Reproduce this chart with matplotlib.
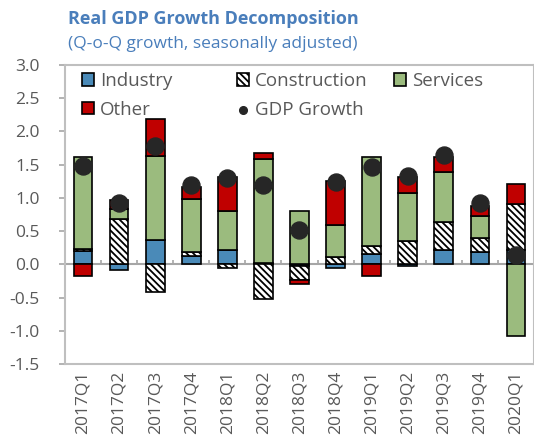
import numpy as np
import matplotlib.pyplot as plt

quarters = ["2017Q1", "2017Q2", "2017Q3", "2017Q4", "2018Q1", "2018Q2", "2018Q3",
            "2018Q4", "2019Q1", "2019Q2", "2019Q3", "2019Q4", "2020Q1"]
industry = [0.20, -0.09, 0.37, 0.13, 0.21, 0.02, -0.03, -0.06, 0.16, -0.03, 0.21, 0.19, 0.21]
construction = [0.03, 0.68, -0.41, 0.05, -0.06, -0.52, -0.20, 0.11, 0.11, 0.35, 0.43, 0.21, 0.70]
services = [1.39, 0.15, 1.26, 0.81, 0.59, 1.57, 0.81, 0.48, 1.34, 0.73, 0.75, 0.32, -1.08]
other = [-0.17, 0.14, 0.55, 0.17, 0.52, 0.08, -0.07, 0.67, -0.17, 0.24, 0.22, 0.16, 0.30]
gdp = [1.48, 0.93, 1.78, 1.19, 1.30, 1.19, 0.52, 1.24, 1.46, 1.33, 1.65, 0.92, 0.14]

blue = "#4A8AB8"
green = "#9BBB7E"
red = "#C00000"
grey = "#595959"
title_col = "#4A7EBB"

plt.rcParams['font.family'] = ['Open Sans', 'DejaVu Sans']
plt.rcParams['hatch.linewidth'] = 1.3

fig = plt.figure(figsize=(5.34, 4.45), dpi=100)
ax = fig.add_axes([0.1217, 0.182, 0.8783, 0.672])

x = np.arange(len(quarters))
w = 0.52
pos_base = np.zeros(len(x))
neg_base = np.zeros(len(x))
series = [("Industry", industry, blue, None),
          ("Construction", construction, "white", "\\" * 5),
          ("Services", services, green, None),
          ("Other", other, red, None)]
handles = {}
for name, vals, col, hatch in series:
    v = np.array(vals)
    b = np.where(v >= 0, pos_base, neg_base)
    bars = ax.bar(x, v, w, bottom=b, color=col, edgecolor="black", linewidth=1.2,
                  hatch=hatch, zorder=3)
    handles[name] = bars
    pos_base = pos_base + np.where(v >= 0, v, 0)
    neg_base = neg_base + np.where(v < 0, v, 0)

dots = ax.scatter(x, gdp, s=150, color="#262626", zorder=5)

ax.axhline(0, color="#A6A6A6", lw=1.5, zorder=2)
ax.vlines(np.arange(-0.5, len(x)), 0, 0.07, color="#A6A6A6", lw=1.2, zorder=2)

ax.set_xlim(-0.5, len(x) - 0.5)
ax.set_ylim(-1.5, 3.0)
ax.set_yticks(np.arange(-1.5, 3.01, 0.5))
ax.set_yticklabels([f"{t:.1f}" for t in np.arange(-1.5, 3.01, 0.5)])
ax.set_xticks(x)
ax.set_xticklabels(quarters, rotation=90)
ax.tick_params(axis="x", length=0, pad=5, labelsize=12.5, labelcolor=grey)
ax.tick_params(axis="y", length=4, width=1.2, color="#A6A6A6", pad=14,
               labelsize=12.5, labelcolor=grey)
for s in ax.spines.values():
    s.set_color("#BFBFBF")
    s.set_linewidth(1.5)

# legend: three equal-width columns like the original
columns = [([handles["Industry"], handles["Other"]], ["Industry", "Other"], 0.036),
           ([handles["Construction"], dots], ["Construction", "GDP Growth"], 0.367),
           ([handles["Services"]], ["Services"], 0.701)]
for i, (hs, labels, xpos) in enumerate(columns):
    leg = ax.legend(hs, labels, loc="upper left", frameon=False, fontsize=13.5,
                    handlelength=0.65, handleheight=0.65, handletextpad=0.3,
                    labelspacing=0.57, borderaxespad=0, borderpad=0,
                    markerscale=0.45, bbox_to_anchor=(xpos, 0.977))
    for t in leg.get_texts():
        t.set_color(grey)
    if i < len(columns) - 1:
        ax.add_artist(leg)

fig.text(0.127, 0.958, "Real GDP Growth Decomposition", fontsize=13, fontweight="bold",
         color=title_col, va="center")
fig.text(0.127, 0.9, "(Q-o-Q growth, seasonally adjusted)", fontsize=12.5,
         color=title_col, va="center")

fig.savefig("out.png", dpi=100)
